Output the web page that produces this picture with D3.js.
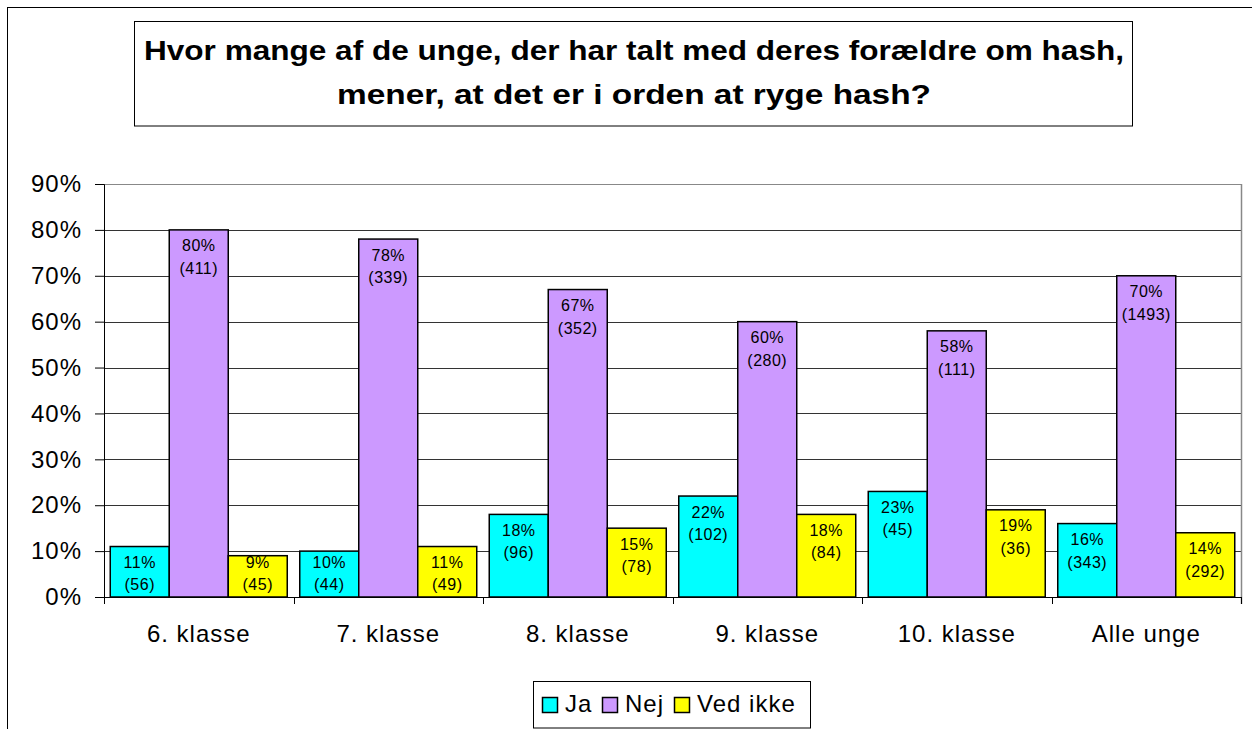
<!DOCTYPE html>
<html>
<head>
<meta charset="utf-8">
<script src="https://cdn.jsdelivr.net/npm/d3@7/dist/d3.min.js"></script>
<style>
  html, body { margin: 0; padding: 0; background: #fff; }
  svg { display: block; font-family: Arial, "Liberation Sans", sans-serif; }
</style>
</head>
<body>
<svg id="chart" width="1252" height="729"></svg>
<script>
const titleLines = ["Hvor mange af de unge, der har talt med deres forældre om hash,", "mener, at det er i orden at ryge hash?"];
const categories = ["6. klasse", "7. klasse", "8. klasse", "9. klasse", "10. klasse", "Alle unge"];
const seriesNames = ["Ja", "Nej", "Ved ikke"];
const seriesColors = ["#00FFFF", "#CC99FF", "#FFFF00"];
const jaPct = [11, 10, 18, 22, 23, 16];
const nejPct = [80, 78, 67, 60, 58, 70];
const vedIkkePct = [9, 11, 15, 18, 19, 14];
const jaN = [56, 44, 96, 102, 45, 343];
const nejN = [411, 339, 352, 280, 111, 1493];
const vedIkkeN = [45, 49, 78, 84, 36, 292];
const yTicks = [0, 10, 20, 30, 40, 50, 60, 70, 80, 90];

const pcts = [jaPct, nejPct, vedIkkePct];
const counts = [jaN, nejN, vedIkkeN];

const svg = d3.select("#chart");

// outer chart border
svg.append("rect").attr("x", 7.5).attr("y", 7.5).attr("width", 1300).attr("height", 800)
  .attr("fill", "#fff").attr("stroke", "#000").attr("stroke-width", 1);

// title box
svg.append("rect").attr("x", 134.5).attr("y", 21.5).attr("width", 998).attr("height", 104.5)
  .attr("fill", "#fff").attr("stroke", "#000").attr("stroke-width", 1);
const titleLens = [980, 594];
const titleBase = [60, 104];
titleLines.forEach((t, i) => {
  svg.append("text").attr("x", 634).attr("y", titleBase[i])
    .attr("text-anchor", "middle").attr("font-weight", "bold").attr("font-size", 27)
    .attr("textLength", titleLens[i]).attr("lengthAdjust", "spacingAndGlyphs")
    .text(t);
});

const pLeft = 104, pRight = 1241, pTop = 184, pBottom = 597;
const y = d3.scaleLinear().domain([0, 90]).range([pBottom, pTop]);
const x0 = d3.scaleBand().domain(categories).range([pLeft, pRight]).paddingInner(0).paddingOuter(0);
const x1 = d3.scaleBand().domain(seriesNames).range([0, x0.bandwidth()]).paddingInner(0).paddingOuter(0.106);

// gridlines
svg.append("g").selectAll("line").data(yTicks.filter(d => d > 0)).join("line")
  .attr("x1", pLeft).attr("x2", pRight)
  .attr("y1", d => Math.round(y(d)) + 0.5).attr("y2", d => Math.round(y(d)) + 0.5)
  .attr("stroke", d => d === 90 ? "#888" : "#333").attr("stroke-width", 1);

// plot area right border
svg.append("line").attr("x1", pRight + 0.5).attr("x2", pRight + 0.5).attr("y1", pTop).attr("y2", pBottom + 7)
  .attr("stroke", "#888").attr("stroke-width", 1.5);

// y axis
const yAxis = d3.axisLeft(y).tickValues(yTicks).tickFormat(d => d + "%").tickSize(9).tickPadding(13);
const gy = svg.append("g").attr("transform", `translate(${pLeft},0)`).call(yAxis);
gy.select(".domain").attr("stroke", "#000");
gy.selectAll(".tick line").attr("stroke", "#000");
gy.selectAll(".tick text").attr("font-size", 24).attr("letter-spacing", 1)
  .attr("font-family", "Arial, 'Liberation Sans', sans-serif").attr("fill", "#000");

// x axis
const xAxis = d3.axisBottom(x0).tickSize(0).tickPadding(0);
const gx = svg.append("g").attr("transform", `translate(0,${pBottom})`).call(xAxis);
gx.select(".domain").attr("stroke", "#000");
gx.selectAll(".tick text").attr("font-size", 24).attr("letter-spacing", 1)
  .attr("font-family", "Arial, 'Liberation Sans', sans-serif").attr("fill", "#000")
  .attr("dy", 0).attr("y", 45);
// category boundary ticks
const bounds = categories.map(c => x0(c)).concat([pRight]);
gx.selectAll(".bnd").data(bounds).join("line").attr("class", "bnd")
  .attr("x1", d => Math.round(d) + 0.5).attr("x2", d => Math.round(d) + 0.5)
  .attr("y1", 0).attr("y2", 7).attr("stroke", "#000");

// bars
const rows = [];
categories.forEach((c, ci) => {
  seriesNames.forEach((s, si) => {
    rows.push({ cat: c, ser: s, si, v: pcts[si][ci], n: counts[si][ci] });
  });
});

const gb = svg.append("g");
gb.selectAll("rect").data(rows).join("rect")
  .attr("x", d => x0(d.cat) + x1(d.ser))
  .attr("y", d => y(d.v))
  .attr("width", x1.bandwidth())
  .attr("height", d => y(0) - y(d.v))
  .attr("fill", d => seriesColors[d.si])
  .attr("stroke", "#000").attr("stroke-width", 1.5);

// labels
const gl = svg.append("g").attr("font-size", 16).attr("fill", "#000").attr("text-anchor", "middle");
rows.forEach(d => {
  const cx = x0(d.cat) + x1(d.ser) + x1.bandwidth() / 2;
  const ty = Math.min(y(d.v), y(0) - 51);
  gl.append("text").attr("x", cx).attr("y", ty + 21.5).attr("letter-spacing", 0.5).text(d.v + "%");
  gl.append("text").attr("x", cx).attr("y", ty + 44).attr("letter-spacing", 0.5).text("(" + d.n + ")");
});

// legend
const lg = svg.append("g");
lg.append("rect").attr("x", 533.5).attr("y", 681.5).attr("width", 277).attr("height", 46.5)
  .attr("fill", "#fff").attr("stroke", "#000").attr("stroke-width", 1);
const legX = [542, 602, 674];
seriesNames.forEach((s, i) => {
  lg.append("rect").attr("x", legX[i] + 0.5).attr("y", 697.5).attr("width", 15).attr("height", 15)
    .attr("fill", seriesColors[i]).attr("stroke", "#000").attr("stroke-width", 1.5);
  lg.append("text").attr("x", legX[i] + 23).attr("y", 712).attr("font-size", 24).attr("letter-spacing", 1)
    .text(s);
});
</script>
</body>
</html>
